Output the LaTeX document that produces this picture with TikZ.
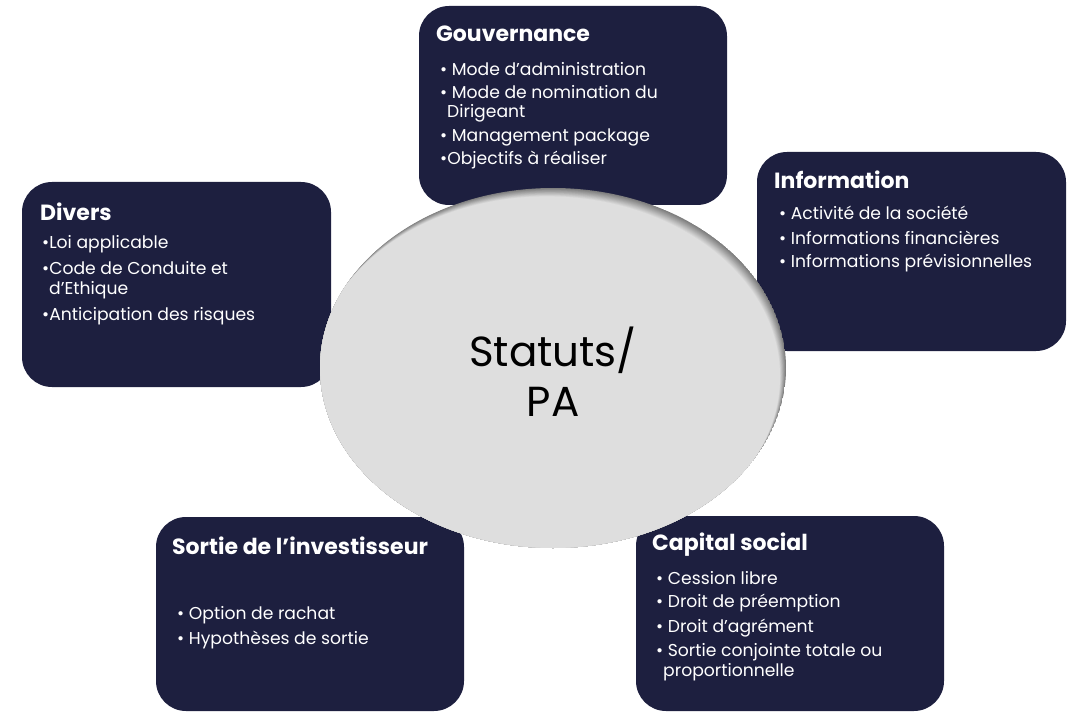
\documentclass[tikz,border=0pt]{standalone}
\usepackage{fontspec}
\setmainfont{Poppins}
\definecolor{navy}{RGB}{29,31,63}
\definecolor{disc}{RGB}{222,222,222}
\definecolor{rim}{RGB}{125,125,125}
\begin{document}
\begin{tikzpicture}[x=1pt,y=-1pt,
  box/.style={fill=navy, rounded corners=30pt},
  head/.style={anchor=west, text=white, inner sep=0pt, font=\bfseries\fontsize{22}{26}\selectfont},
  item/.style={anchor=west, text=white, inner sep=0pt, font=\fontsize{17.2}{20}\selectfont}]
\useasboundingbox (0,0) rectangle (1071,714);
% boxes
\path[box] (419,6) rectangle (727,205);
\path[box] (22,182) rectangle (331,387);
\path[box] (757,152) rectangle (1066,351);
\path[box] (156,517) rectangle (464,711);
\path[box] (636,516) rectangle (944,711);
% Gouvernance
\node[head] (gh) at (436,34) {Gouvernance};
\node[item] (g1) at (440,69) {• Mode d’administration};
\node[item] (g2) at (440,92) {• Mode de nomination du};
\node[item] (g3) at (447,113) {Dirigeant};
\node[item] (g4) at (440,137) {• Management package};
\node[item] (g5) at (440,160) {•Objectifs à réaliser};
% Divers
\node[head] (dh) at (40,212) {Divers};
\node[item] (d1) at (42,244) {•Loi applicable};
\node[item] (d2) at (42,268) {•Code de Conduite et};
\node[item] (d3) at (49,290) {d’Ethique};
\node[item] (d4) at (42,316) {•Anticipation des risques};
% Information
\node[head] (ih) at (774,180) {Information};
\node[item] (i1) at (779,213) {• Activité de la société};
\node[item] (i2) at (779,238) {• Informations financières};
\node[item] (i3) at (779,263) {• Informations prévisionnelles};
% Sortie
\node[head] (sh) at (172,546) {Sortie de l’investisseur};
\node[item] (s1) at (177,615) {• Option de rachat};
\node[item] (s2) at (177,640) {• Hypothèses de sortie};
% Capital social
\node[head] (ch) at (652,545) {Capital social};
\node[item] (c1) at (656,578) {• Cession libre};
\node[item] (c2) at (656,603) {• Droit de préemption};
\node[item] (c3) at (656,628) {• Droit d’agrément};
\node[item] (c4) at (656,652) {• Sortie conjointe totale ou};
\node[item] (c5) at (663,672) {proportionnelle};
% central ellipse
\begin{scope}
  \clip (553,368) ellipse [x radius=233, y radius=180];
  \fill[rim] (553,368) ellipse [x radius=233, y radius=180];
  \foreach \i in {1,...,12}{
    \pgfmathsetmacro{\p}{\i/12*100}
    \fill[disc!\p!rim] ({553-\i*0.5},{368+\i*0.7}) ellipse [x radius=233, y radius=180];
  }
\end{scope}
\node[align=center, inner sep=0pt, font=\fontsize{42}{50}\selectfont, text=black] (center) at (553,372) {Statuts/\\PA};
\end{tikzpicture}
\end{document}
